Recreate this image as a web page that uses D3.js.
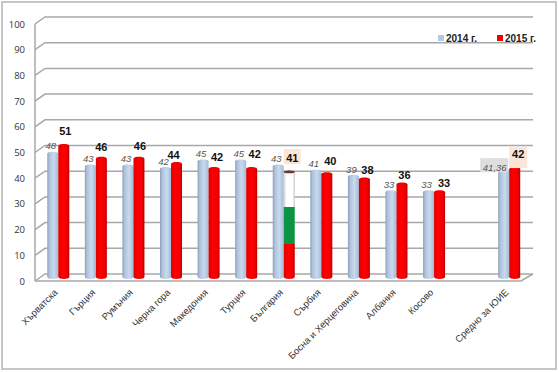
<!DOCTYPE html>
<html>
<head>
<meta charset="utf-8">
<script src="https://cdn.jsdelivr.net/npm/d3@7"></script>
<style>
html, body { margin: 0; padding: 0; background: #fff; }
svg { display: block; font-family: "Liberation Sans", sans-serif; }
</style>
</head>
<body>
<div id="drawing"></div>
<script>
"use strict"

/**** DATA ****/

const countries = ["Хърватска", "Гърция", "Румъния", "Черна гора", "Македония", "Турция", "България", "Сърбия", "Босна и Херцеговина", "Албания", "Косово", "", "Средно за ЮИЕ"]
const values2014 = [48, 43, 43, 42, 45, 45, 43, 41, 39, 33, 33, null, 41.36]
const values2015 = [51, 46, 46, 44, 42, 42, 41, 40, 38, 36, 33, null, 42]
const labels2014 = ["48", "43", "43", "42", "45", "45", "43", "41", "39", "33", "33", "", "41,36"]
const labels2015 = ["51", "46", "46", "44", "42", "42", "41", "40", "38", "36", "33", "", "42"]
const yTicks = [0, 10, 20, 30, 40, 50, 60, 70, 80, 90, 100]
const seriesNames = ["2014 г.", "2015 г."]
// the Bulgarian bar is painted as the flag, stops are in chart units
const flagStops = [0, 12.8, 27.2, 41]
const flagColors = ["url(#redBar)", "#0a9444", "url(#whiteBar)"]

/**** CONFIGURATION ****/

const svgWidth = 559
const svgHeight = 372
const depthX = 10
const depthY = 7
const barWidth = 11
const capHeight = 2

// hand placed nudges for the value labels, as in the original
const redShiftX = [1.5, 0, 1, -3, 3, 3, 3, 3.5, 3, 2.5, 4.5, 0, 3.5]
const redShiftY = [15, 12, 12.5, 9, 12, 15, 13.5, 13, 9, 9.5, 9, 0, 15]

/**** CANVAS ****/

const svg = d3.select("#drawing").append("svg")
  .attr("width", svgWidth)
  .attr("height", svgHeight)

const defs = svg.append("defs")

function barGradient(id, stops) {
  const g = defs.append("linearGradient").attr("id", id)
  stops.forEach(function (s) {
    g.append("stop").attr("offset", s[0]).attr("stop-color", s[1])
  })
}
barGradient("blueBar", [[0, "#8c9db8"], [0.2, "#aec3dd"], [0.6, "#c8daee"], [1, "#a3bad6"]])
barGradient("redBar", [[0, "#e00000"], [0.4, "#ff0000"], [0.8, "#f00000"], [1, "#b80000"]])
barGradient("whiteBar", [[0, "#cfcfcf"], [0.25, "#ffffff"], [0.8, "#ffffff"], [1, "#c4c4c4"]])

svg.append("rect")
  .attr("x", 2).attr("y", 2)
  .attr("width", 554).attr("height", 367)
  .attr("fill", "#fff")
  .attr("stroke", "#c6c6c6")
  .attr("stroke-width", 2)

/**** SCALES ****/

const yScale = d3.scaleLinear().domain([0, 100]).range([281, 24])
const xScale = d3.scaleBand().domain(d3.range(countries.length)).range([39.5, 528])
const barBase = v => yScale(v) - 4

/**** GRID AND AXES ****/

const grid = svg.append("g").attr("fill", "none").attr("stroke", "#a8a8a8").attr("stroke-width", 1.5)

grid.selectAll("path")
  .data(yTicks)
  .join("path")
  .attr("d", function (d) {
    const p = d3.path()
    p.moveTo(35, yScale(d))
    p.lineTo(35 + depthX, yScale(d) - depthY)
    p.lineTo(533, yScale(d) - depthY)
    return p.toString()
  })

grid.append("line")
  .attr("x1", 35).attr("x2", 35)
  .attr("y1", yScale(100)).attr("y2", yScale(0))

grid.append("path")
  .attr("d", `M35,${yScale(0)}L521,${yScale(0)}L533,${yScale(0) - depthY}`)

const yAxis = svg.append("g")
  .attr("transform", "translate(28,0)")
  .call(d3.axisLeft(yScale).tickValues(yTicks).tickSize(0).tickPadding(3))
yAxis.select(".domain").remove()
yAxis.selectAll("text")
  .attr("font-family", "'Open Sans', sans-serif")
  .attr("font-size", 9.5)
  .attr("fill", "#333")

/**** BARS ****/

function cylinder(g, x, v0, v1, fill, flatTop) {
  const top = barBase(v1)
  const bottom = barBase(v0)
  const p = d3.path()
  p.moveTo(x, top)
  p.lineTo(x, bottom)
  p.bezierCurveTo(x, bottom + capHeight * 1.3, x + barWidth, bottom + capHeight * 1.3, x + barWidth, bottom)
  p.lineTo(x + barWidth, top)
  if (flatTop) p.closePath()
  else p.bezierCurveTo(x + barWidth, top - capHeight * 1.3, x, top - capHeight * 1.3, x, top)
  g.append("path").attr("d", p.toString()).attr("fill", fill)
}

const bars = svg.append("g")

countries.forEach(function (c, i) {
  if (values2014[i] === null) return
  const mid = xScale(i) + xScale.bandwidth() / 2
  cylinder(bars, mid - barWidth, 0, values2014[i], "url(#blueBar)")
  if (c === "България") {
    // top layer first, the lower pieces get flat tops and are clipped by the next one
    for (let k = flagColors.length - 1; k >= 0; k--) {
      cylinder(bars, mid, flagStops[k], flagStops[k + 1], flagColors[k], k < flagColors.length - 1)
    }
    bars.append("ellipse")
      .attr("cx", mid + barWidth / 2).attr("cy", barBase(flagStops[3]))
      .attr("rx", barWidth / 2).attr("ry", capHeight - 0.5)
      .attr("fill", "#6b3a2a")
  } else {
    cylinder(bars, mid, 0, values2015[i], "url(#redBar)")
  }
})

/**** VALUE LABELS ****/

const labelsBlue = svg.append("g")
  .attr("font-size", 9.5)
  .attr("font-style", "italic")
  .attr("fill", "#555")
  .attr("text-anchor", "middle")

const labelsRed = svg.append("g")
  .attr("font-size", 11)
  .attr("font-weight", "bold")
  .attr("fill", "#111")
  .attr("text-anchor", "middle")

// highlighted labels
const lastIndex = countries.length - 1
const bgIndex = countries.indexOf("България")
const mid = i => xScale(i) + xScale.bandwidth() / 2

labelsBlue.append("rect")
  .attr("x", mid(lastIndex) - 29).attr("y", barBase(values2014[lastIndex]) - 12.5)
  .attr("width", 28).attr("height", 14)
  .attr("fill", "#dedede")

labelsRed.append("rect")
  .attr("x", mid(bgIndex)).attr("y", barBase(values2015[bgIndex]) - 22.5)
  .attr("width", 17).attr("height", 15)
  .attr("fill", "#fbe5d6")

labelsRed.append("rect")
  .attr("x", mid(lastIndex)).attr("y", barBase(values2015[lastIndex]) - 22)
  .attr("width", 18).attr("height", 21)
  .attr("fill", "#fbe5d6")

countries.forEach(function (c, i) {
  if (values2014[i] === null) return
  const blueLast = i === lastIndex
  labelsBlue.append("text")
    .attr("x", mid(i) - barWidth / 2 + (blueLast ? -9 : -2))
    .attr("y", barBase(values2014[i]) + (blueLast ? -3.5 : -7.5))
    .attr("dy", "0.35em")
    .text(labels2014[i])
  labelsRed.append("text")
    .attr("x", mid(i) + barWidth / 2 + redShiftX[i])
    .attr("y", barBase(values2015[i]) - redShiftY[i])
    .attr("dy", "0.35em")
    .text(labels2015[i])
})

/**** CATEGORY LABELS ****/

svg.append("g")
  .selectAll("text")
  .data(countries)
  .join("text")
  .attr("transform", (d, i) => `translate(${mid(i)},293) rotate(-45)`)
  .attr("text-anchor", "end")
  .attr("font-size", 9.5)
  .attr("fill", "#333")
  .text(d => d)

/**** LEGEND ****/

const legendX = d3.scaleOrdinal().domain(seriesNames).range([438, 497])
const legendFill = d3.scaleOrdinal().domain(seriesNames).range(["#b4c9e2", "#f00000"])

const legend = svg.append("g")
  .selectAll("g")
  .data(seriesNames)
  .join("g")
  .attr("transform", d => `translate(${legendX(d)},35)`)

legend.append("rect")
  .attr("width", 6).attr("height", 6)
  .attr("fill", d => legendFill(d))

legend.append("text")
  .attr("x", 8).attr("y", 3)
  .attr("dy", "0.35em")
  .attr("font-size", 10)
  .attr("font-weight", "bold")
  .attr("fill", "#222")
  .text(d => d)
</script>
</body>
</html>
